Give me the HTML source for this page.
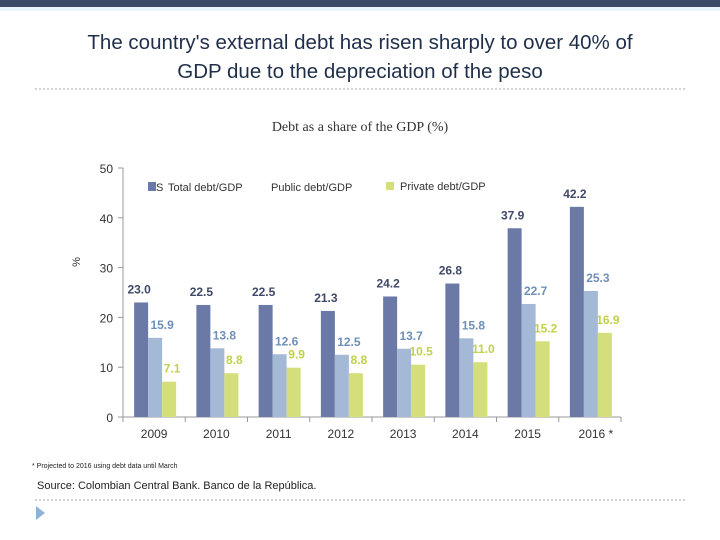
<!DOCTYPE html>
<html><head><meta charset="utf-8"><style>
body{margin:0;width:720px;height:540px;background:#fff;overflow:hidden;position:relative;font-family:"Liberation Sans",sans-serif}
</style></head><body>
<div style="position:absolute;left:0;top:0;width:720px;height:7px;background:#3b4a66"></div>
<div style="position:absolute;left:0;top:7px;width:720px;height:4px;background:#e8f6fb"></div>
<div style="position:absolute;left:0;top:28px;width:720px;text-align:center;font-size:20.5px;line-height:29px;color:#1f2f4a">The country's external debt has risen sharply to over 40% of<br>GDP due to the depreciation of the peso</div>
<svg width="720" height="540" style="position:absolute;left:0;top:0" id="chart">
<line x1="35" y1="89" x2="686" y2="89" stroke="#aaa" stroke-dasharray="2,2"/>
<line x1="35" y1="500" x2="686" y2="500" stroke="#aaa" stroke-dasharray="2,2"/>
<polygon points="36,506 45,513 36,520" fill="#8fb3d6"/>
<text x="360" y="131" text-anchor="middle" font-family="Liberation Serif,serif" font-size="14" fill="#333">Debt as a share of the GDP (%)</text>
<text transform="translate(80,262) rotate(-90)" text-anchor="middle" font-size="11" fill="#333">%</text>
<g id="axes"></g><g id="labels"></g><g id="bars"></g>
<g>
<rect x="148" y="182" width="8" height="9" fill="#6b79a6"/>
<text x="156" y="191" font-size="11" fill="#333">S</text>
<rect x="163" y="178" width="95" height="16" fill="#fff"/>
<text x="168" y="191" font-size="11" fill="#333">Total debt/GDP</text>
<text x="271" y="191" font-size="11" fill="#333">Public debt/GDP</text>
<rect x="386" y="182" width="8" height="8" fill="#d4df7c"/>
<text x="400" y="190" font-size="11" fill="#333">Private debt/GDP</text>
</g>
<text x="32" y="468" font-size="7" fill="#222">* Projected to 2016 using debt data until March</text>
<text x="37" y="489" font-size="11" fill="#222">Source: Colombian Central Bank. Banco de la República.</text>
</svg>
<script>
const categories=["2009","2010","2011","2012","2013","2014","2015","2016 *"];
const totalDebt=[23.0,22.5,22.5,21.3,24.2,26.8,37.9,42.2];
const publicDebt=[15.9,13.8,12.6,12.5,13.7,15.8,22.7,25.3];
const privateDebt=[7.1,8.8,9.9,8.8,10.5,11.0,15.2,16.9];
const yTicks=[0,10,20,30,40,50];
const NS="http://www.w3.org/2000/svg";
const x0=123,x1=621,y0=417,yTop=168,yMax=50;
const cw=(x1-x0)/categories.length;
const y=v=>y0-(v/yMax)*(y0-yTop);
const cx=i=>x0+cw*(i+0.5);
function mk(t,a,p){const e=document.createElementNS(NS,t);for(const k in a)e.setAttribute(k,a[k]);document.getElementById(p).appendChild(e);return e;}
const ax=mk("line",{x1:x0,y1:yTop,x2:x0,y2:y0,stroke:"#999"},"axes");


const bx=mk("line",{x1:x0,y1:y0,x2:x1,y2:y0,stroke:"#999"},"axes");


yTicks.forEach(t=>{
  mk("line",{x1:x0-5,y1:y(t),x2:x0,y2:y(t),stroke:"#999"},"axes");
  const tl=mk("text",{x:x0-10,y:y(t)+5,"text-anchor":"end","font-size":"12",fill:"#333"},"axes");
  tl.textContent=t;
  
  
});
for(let i=0;i<=categories.length;i++)mk("line",{x1:x0+cw*i,y1:y0,x2:x0+cw*i,y2:y0+5,stroke:"#999"},"axes");
categories.forEach((c,i)=>{
  const tl=mk("text",{x:cx(i)+(i==7?6:0),y:y0+21,"text-anchor":"middle","font-size":"12",fill:"#333"},"axes");
  tl.textContent=c;
  
  
});
const series=[[totalDebt,"#6b79a6","#3f4868","total",-2],[publicDebt,"#a4b9d6","#6f8fb8","public",7],[privateDebt,"#d4df7c","#c2d04a","private",3]];
const bw=14;
series.forEach((s,si)=>{
  s[0].forEach((v,i)=>{
    const bxp=cx(i)-bw*1.5+1+si*bw;
    const r=mk("rect",{x:bxp,y:y(v),width:bw,height:y0-y(v),fill:s[1]},"bars");
    
    
    const t=mk("text",{x:bxp+bw/2+s[4],y:y(v)-9,"text-anchor":"middle","font-size":"12","font-weight":"bold",fill:s[2]},"labels");
    t.textContent=v.toFixed(1);
    
    
  });
});
</script>
</body></html>
